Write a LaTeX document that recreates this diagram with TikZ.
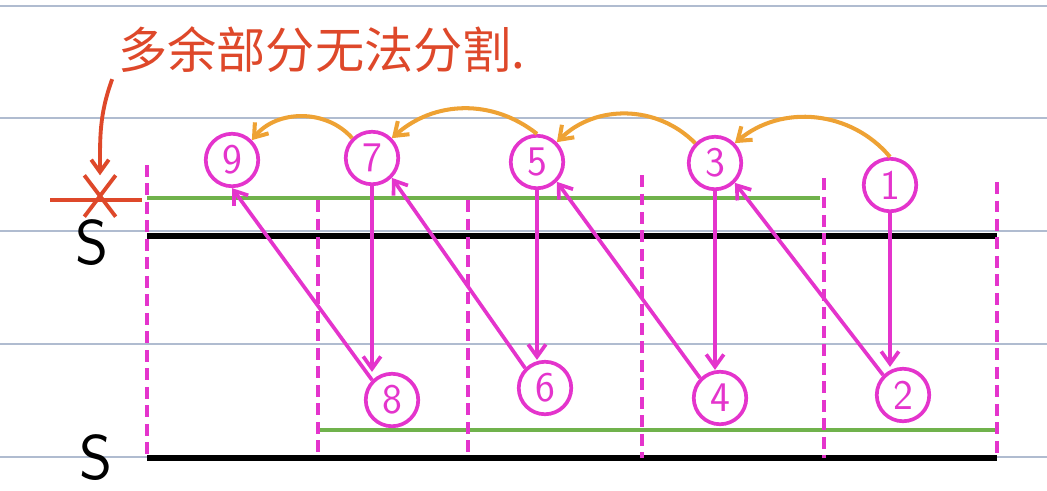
\documentclass[tikz,border=0pt]{standalone}
\usepackage{fontspec}
\usepackage{tikz}
\usetikzlibrary{shapes.misc, arrows.meta}
\newfontfamily\cjk{Noto Sans CJK SC}
\definecolor{penmagenta}{RGB}{228,52,204}
\definecolor{penorange}{RGB}{238,162,52}
\definecolor{pengreen}{RGB}{112,178,76}
\definecolor{penred}{RGB}{222,72,42}
\definecolor{ruleblue}{RGB}{176,188,208}

\begin{document}
\begin{tikzpicture}[x=0.02cm, y=-0.02cm, >={Straight Barb[length=7pt, width=10pt]},
    num/.style={draw=penmagenta, circle, line width=2.1pt, text=penmagenta,
        minimum size=1.05cm, inner sep=0pt, font=\sffamily\fontsize{24}{24}\selectfont},
    flow/.style={->, draw=penmagenta, line width=2.1pt},
    hop/.style={->, draw=penorange, line width=2.3pt},
    slab/.style={font=\sffamily\fontsize{36}{36}\selectfont}]
                \useasboundingbox (0,0) rectangle (1047,490);
                % ruled paper
                \foreach \y in {6, 118, 231, 344, 457} {
                    \draw[ruleblue, line width=1pt] (0,\y) -- (1047,\y);
                }
                % the two S and what is cut from them
                \draw[black, line width=3pt] (147,236) -- (997,236);
                \draw[black, line width=3pt] (147,458) -- (997,458);
                \draw[pengreen, line width=2.6pt] (147,198) -- (820,198);
                \draw[pengreen, line width=2.6pt] (318,430) -- (997,430);
                \draw[penred, line width=2.6pt] (50,200) -- (142,200);
                \foreach \x/\top in {147/165, 318/200, 468/200, 642/175, 824/178, 997/182} {
                    \draw[penmagenta, line width=2.1pt, dash pattern=on 0.24cm off 0.13cm] (\x,\top) -- (\x,458);
                }
                \node[slab] (stop) at (92,243) {S};
                \node[slab] (sbot) at (96,458) {S};
                % pieces
                \foreach \n/\x/\y in {9/232/160, 7/372/158, 5/537/162, 3/715/163, 1/890/185} {
                    \node[num] (n\n) at (\x,\y) {\n};
                }
                \foreach \n/\x/\y in {8/392/400, 6/545/388, 4/720/398, 2/903/395} {
                    \node[num] (n\n) at (\x,\y) {\n};
                }
                \foreach \a/\b in {1/2, 3/4, 5/6, 7/8} {
                    \draw[flow] (n\a) -- (n\a |- n\b.north);
                }
                \draw[flow] (n2.north west) -- (n3.south east);
                \draw[flow] (n4.north west) -- (n5.south east);
                \draw[flow] (n6.north west) -- (n7.south east);
                \draw[flow] (n8.north west) -- (n9.south);
                \draw[hop] (n1.north) to[bend right=45] (n3.north east);
                \draw[hop] (n3.north west) to[bend right=45] (n5.north east);
                \draw[hop] (n5.north) to[bend right=40] (n7.north east);
                \draw[hop] (n7.north west) to[bend right=50] (n9.north east);
                % leftover
                \node[text=penred, font=\cjk\fontsize{28}{28}\selectfont] (note) at (322,50) {多余部分无法分割.};
                \node[cross out, draw=penred, line width=2.2pt, minimum width=0.55cm, minimum height=0.75cm] (cut) at (100,196) {};
                \draw[->, penred, line width=2.2pt] (note.south west) to[out=250, in=90] (cut.north);
            \end{tikzpicture}
\end{document}
